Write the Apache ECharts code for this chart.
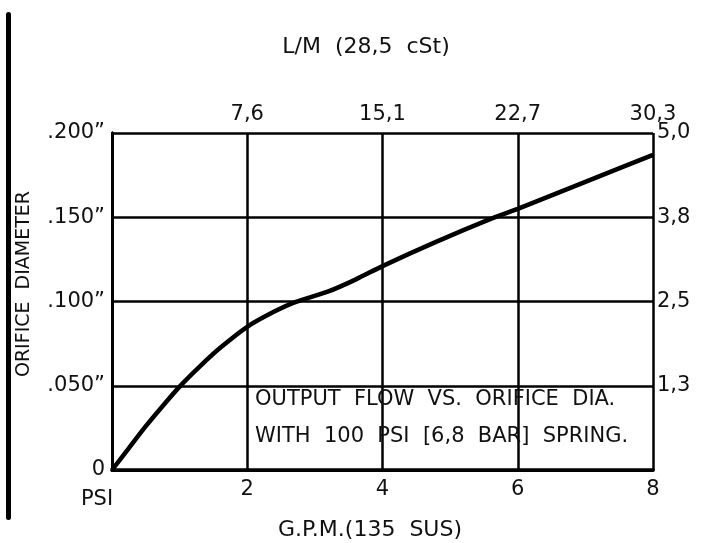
<!DOCTYPE html>
<html><head><meta charset="utf-8">
<script src="https://cdn.jsdelivr.net/npm/echarts@6/dist/echarts.min.js"></script>
<style>html,body{margin:0;padding:0;background:#fff}#c{width:713px;height:543px}</style>
</head><body><div id="c"></div>
<script>
// Data
const gpm = [0, 0.25, 0.5, 0.75, 1.0, 1.3, 1.6, 2.0, 2.4, 2.7, 3.2, 3.6, 4.0, 4.8, 5.6, 6.0, 7.0, 8.0];
const orificeDia = [0, 0.013, 0.026, 0.038, 0.0495, 0.0615, 0.0725, 0.085, 0.094, 0.0995, 0.106, 0.113, 0.121, 0.1355, 0.149, 0.155, 0.171, 0.187];
const gpmTicks = [0, 2, 4, 6, 8];
const lpmLabels = ['', '7,6', '15,1', '22,7', '30,3'];
const diaTicks = [0, 0.05, 0.10, 0.15, 0.20];
const diaLabels = ['0', '.050”', '.100”', '.150”', '.200”'];
const mmLabels = ['', '1,3', '2,5', '3,8', '5,0'];

const FONT = 'DejaVu Sans';
const idx = (arr, v) => arr.findIndex(t => Math.abs(t - v) < 1e-9);
const chart = echarts.init(document.getElementById('c'), null, {renderer: 'canvas'});
const axisLine = {show: true, lineStyle: {color: '#000', width: 3}};
const split = {show: true, lineStyle: {color: '#000', width: 2.5}};
const lbl = {color: '#111', fontFamily: FONT, fontSize: 21};
chart.setOption({
  animation: false,
  backgroundColor: '#fff',
  grid: {left: 112, right: 60, top: 133, bottom: 73, containLabel: false},
  xAxis: [
    {type: 'value', position: 'bottom', min: 0, max: 8, interval: 2,
     axisLine, axisTick: {show: false}, splitLine: split,
     axisLabel: Object.assign({}, lbl, {margin: 9, formatter: v => v === 0 ? '' : String(v)})},
    {type: 'value', position: 'top', min: 0, max: 8, interval: 2,
     axisLine: {show: true, lineStyle: {color: '#000', width: 3.5}}, axisTick: {show: false}, splitLine: {show: false},
     axisLabel: Object.assign({}, lbl, {margin: 8, formatter: v => lpmLabels[idx(gpmTicks, v)] || ''})}
  ],
  yAxis: [
    {type: 'value', position: 'left', min: 0, max: 0.2, interval: 0.05,
     axisLine, axisTick: {show: false}, splitLine: split,
     axisLabel: Object.assign({}, lbl, {margin: 7, formatter: v => diaLabels[idx(diaTicks, v)] || ''})},
    {type: 'value', position: 'right', min: 0, max: 0.2, interval: 0.05,
     axisLine, axisTick: {show: false}, splitLine: {show: false},
     axisLabel: Object.assign({}, lbl, {margin: 4, formatter: v => mmLabels[idx(diaTicks, v)] || ''})}
  ],
  series: [{
    type: 'line', xAxisIndex: 0, yAxisIndex: 0, smooth: 0.3, symbol: 'none',
    lineStyle: {color: '#000', width: 4.5},
    data: gpm.map((x, i) => [x, orificeDia[i]]),
    z: 5
  }],
  graphic: [
    {type: 'rect', shape: {x: 6, y: 12, width: 5, height: 508, r: 2.5}, style: {fill: '#000'}},
    {type: 'text', x: 366, y: 47, style: {text: 'L/M  (28,5  cSt)', fontFamily: FONT, fontSize: 22, fill: '#111', align: 'center', verticalAlign: 'middle'}},
    {type: 'text', x: 370, y: 530, style: {text: 'G.P.M.(135  SUS)', fontFamily: FONT, fontSize: 22, fill: '#111', align: 'center', verticalAlign: 'middle'}},
    {type: 'text', x: 97, y: 500, style: {text: 'PSI', fontFamily: FONT, fontSize: 21, fill: '#111', align: 'center', verticalAlign: 'middle'}},
    {type: 'text', x: 24, y: 284, rotation: Math.PI / 2, style: {text: 'ORIFICE  DIAMETER', fontFamily: FONT, fontSize: 19, fill: '#111', align: 'center', verticalAlign: 'middle'}},
    {type: 'text', x: 255, y: 400, style: {text: 'OUTPUT  FLOW  VS.  ORIFICE  DIA.', fontFamily: FONT, fontSize: 21, fill: '#111', align: 'left', verticalAlign: 'middle'}, z: 10},
    {type: 'text', x: 255, y: 437, style: {text: 'WITH  100  PSI  [6,8  BAR]  SPRING.', fontFamily: FONT, fontSize: 21, fill: '#111', align: 'left', verticalAlign: 'middle'}, z: 10}
  ]
});
</script></body></html>
